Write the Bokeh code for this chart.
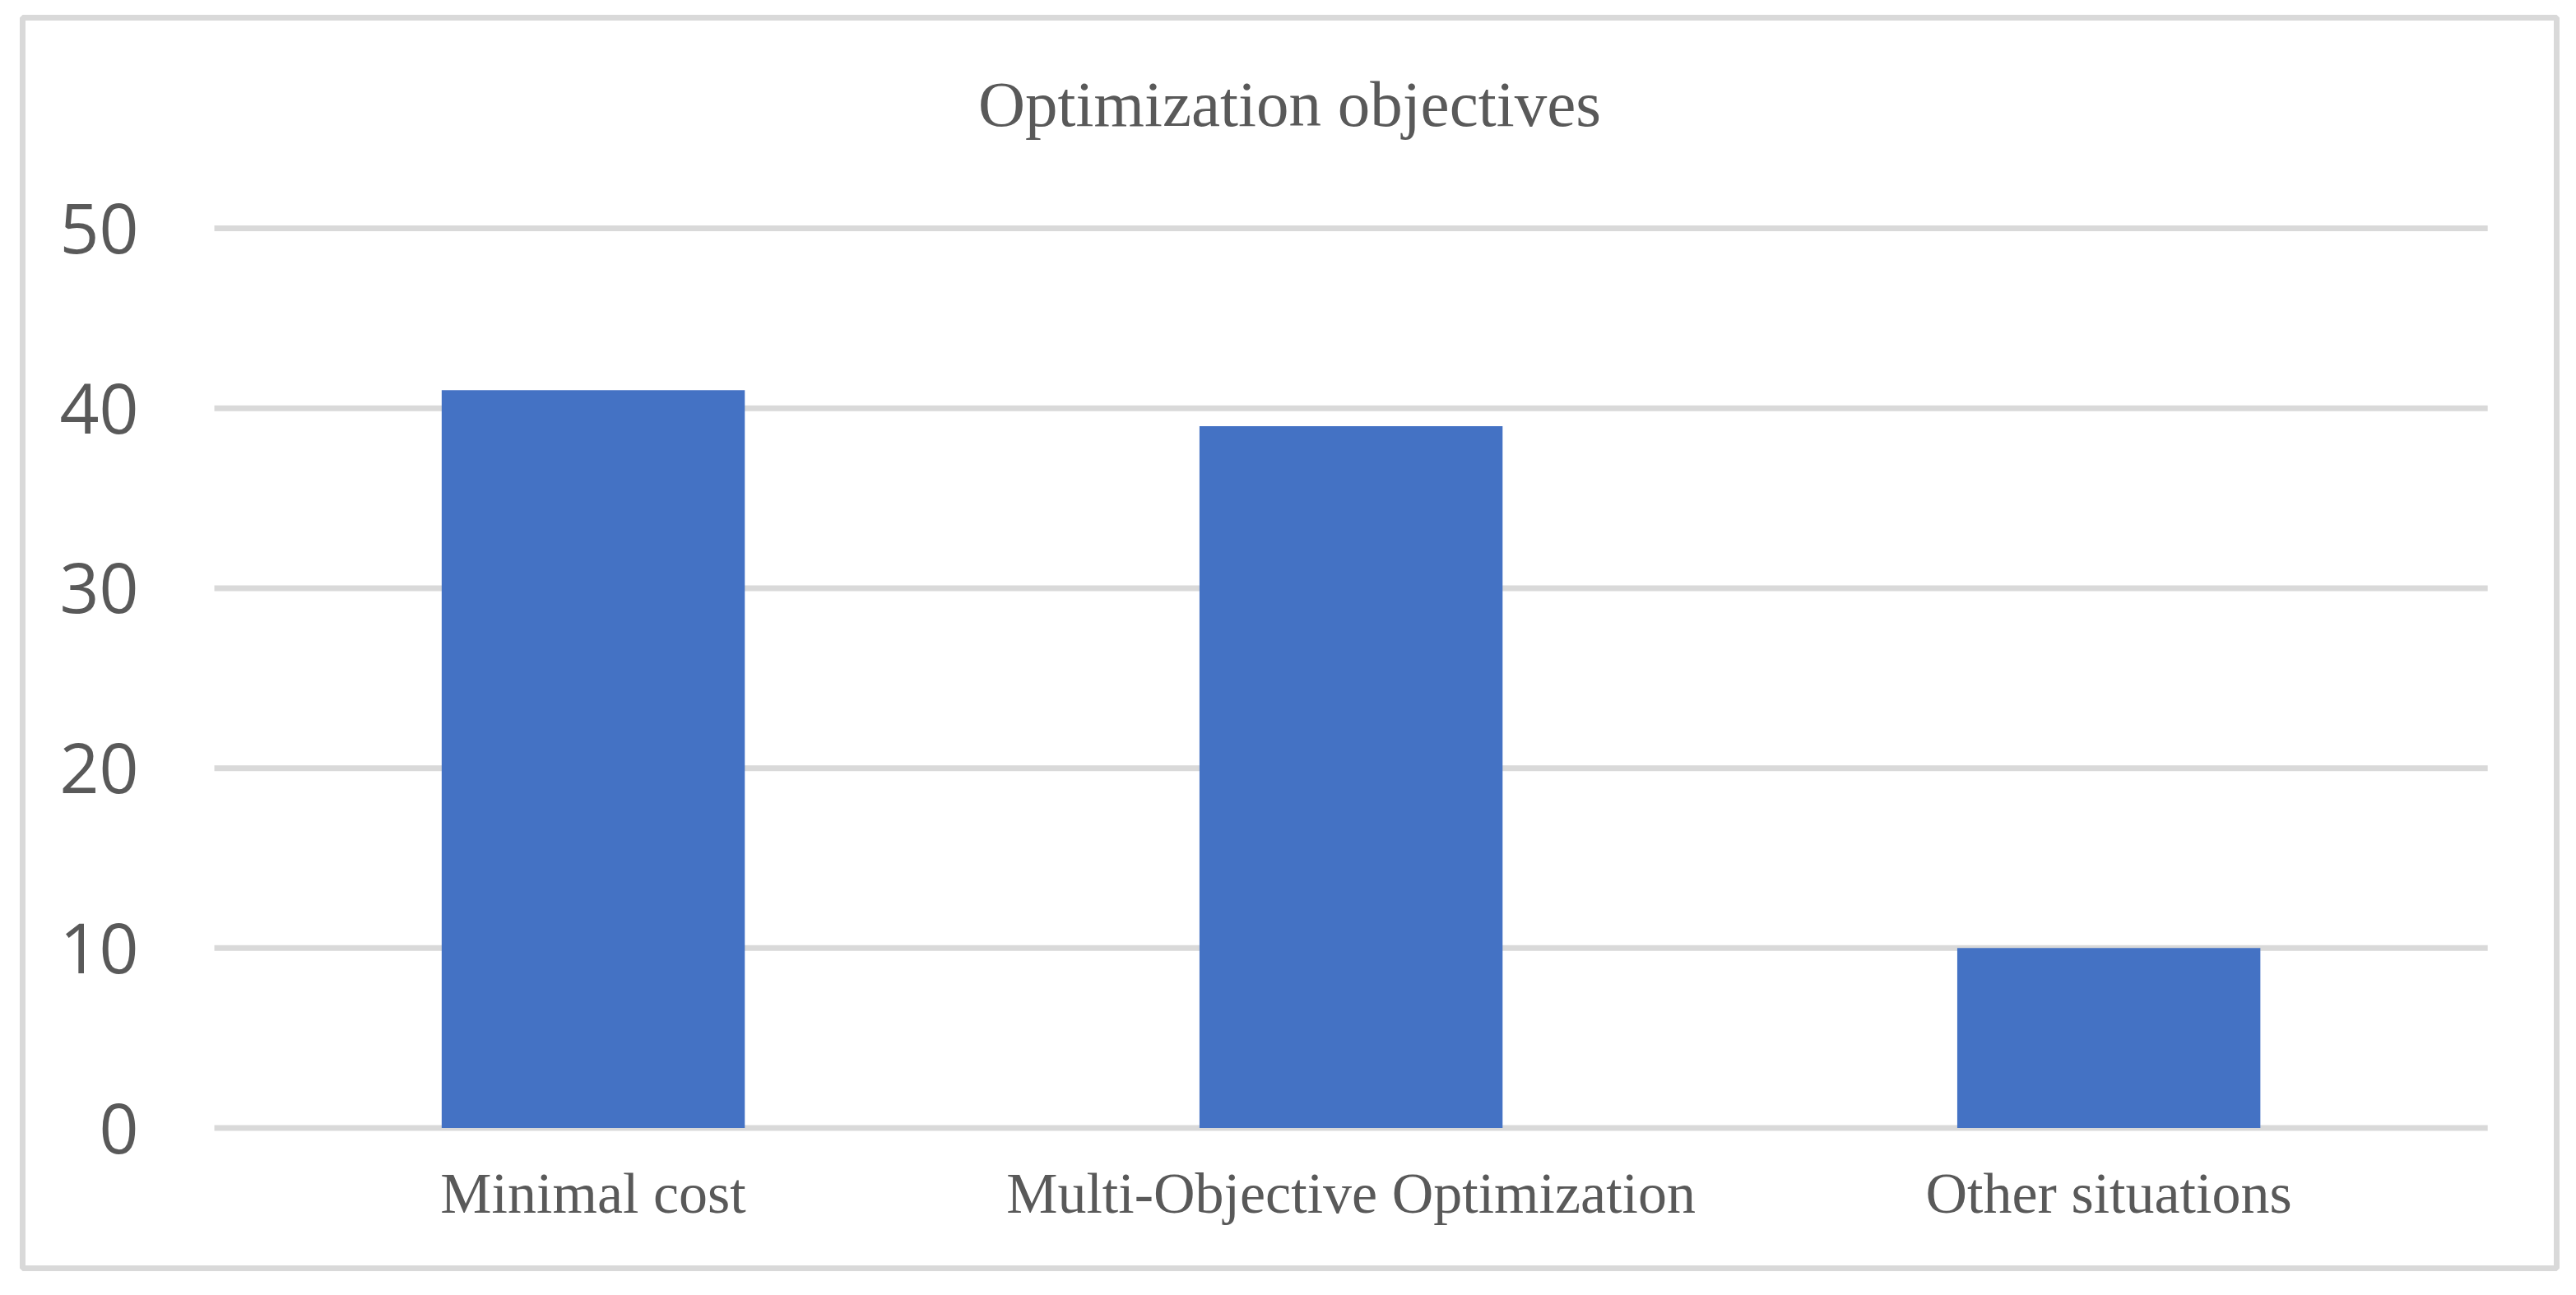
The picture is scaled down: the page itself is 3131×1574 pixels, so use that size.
from bokeh.plotting import figure
from bokeh.models import Range1d, FixedTicker, Label, ColumnDataSource
from bokeh.embed import file_html
from bokeh.resources import INLINE

# ---- data ----
categories = ["Minimal cost", "Multi-Objective Optimization", "Other situations"]
counts = [41, 39, 10]
y_ticks = [0, 10, 20, 30, 40, 50]
title_text = "Optimization objectives"

GRID = "#d9d9d9"
TXT = "#595959"
BAR = "#4472c4"

xpos = list(range(len(categories)))
src = ColumnDataSource(dict(x=xpos, val=counts))

# frame = the inner area of the chart border
X_START, X_END = -0.753, 2.591
Y_START, Y_END = -7.79, 61.70

p = figure(
    width=3131, height=1574,
    x_range=Range1d(X_START, X_END),
    y_range=Range1d(Y_START, Y_END),
    output_backend="svg", toolbar_location=None,
    min_border_left=27, min_border_right=24,
    min_border_top=21, min_border_bottom=33,
)
p.title.text = ""
p.title.visible = False
p.background_fill_color = "white"
p.border_fill_color = "white"
p.outline_line_color = GRID
p.outline_line_width = 7

# horizontal gridlines spanning the category area only
p.xgrid.visible = False
p.ygrid.visible = False
p.segment(x0=[-0.5] * len(y_ticks), x1=[len(categories) - 0.5] * len(y_ticks),
          y0=y_ticks, y1=y_ticks, line_color=GRID, line_width=7)

p.vbar(x="x", top="val", bottom=0, width=0.4, source=src,
       fill_color=BAR, line_color=None)

# y axis at the left edge of the category area
yax = p.yaxis[0]
yax.fixed_location = -0.5
yax.ticker = FixedTicker(ticks=y_ticks)
yax.axis_line_color = None
yax.major_tick_line_color = None
yax.minor_tick_line_color = None
yax.major_tick_out = 0
yax.major_tick_in = 0
yax.major_label_standoff = 92
yax.major_label_text_font = "Open Sans"
yax.major_label_text_font_size = "84px"
yax.major_label_text_color = TXT

# x axis at y = 0
xax = p.xaxis[0]
xax.fixed_location = 0
xax.ticker = FixedTicker(ticks=xpos)
xax.major_label_overrides = {i: c for i, c in zip(xpos, categories)}
xax.axis_line_color = None
xax.major_tick_line_color = None
xax.minor_tick_line_color = None
xax.major_tick_out = 0
xax.major_tick_in = 0
xax.major_label_standoff = 41
xax.major_label_text_font = "Liberation Serif"
xax.major_label_text_font_size = "70px"
xax.major_label_text_color = TXT

# title, centred in the chart box
title = Label(x=(X_START + X_END) / 2, y=56.9,
              text=title_text, text_align="center", text_baseline="alphabetic",
              text_font="Liberation Serif", text_font_size="79px",
              text_color=TXT)
p.add_layout(title)

open("out.html", "w").write(file_html(p, INLINE))
